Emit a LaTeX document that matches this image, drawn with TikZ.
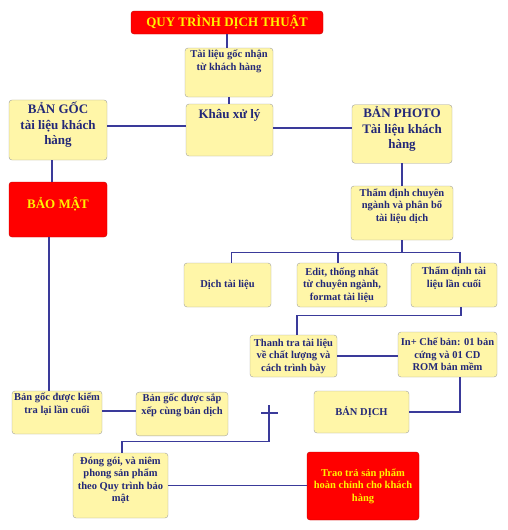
\documentclass[tikz,border=0pt]{standalone}
\usepackage{fontspec}
\setmainfont{Liberation Serif}
\usetikzlibrary{arrows.meta,positioning}
\definecolor{boxfill}{HTML}{FFF6A8}
\definecolor{boxline}{HTML}{A0A0A0}
\definecolor{ink}{HTML}{232878}
\definecolor{wireblue}{HTML}{3A3A9A}
\newcommand{\sm}{\fontsize{10.5}{12.5}\selectfont}
\newcommand{\bg}{\fontsize{13}{15.5}\selectfont}
\newcommand{\lift}[1]{\rule[-#1pt]{0pt}{0pt}}

\begin{document}
\begin{tikzpicture}[x=1pt,y=-1pt,
  box/.style={draw=boxline,rounded corners=3pt,fill=boxfill,text=ink,align=center,inner xsep=1pt,inner ysep=2pt,font=\bfseries\sm},
  hot/.style={box,fill=red,draw=red!75!black,text=yellow},
  sz/.style 2 args={minimum width=#1pt,minimum height=#2pt},
  wire/.style={draw=wireblue,line width=1.2pt}]
  \useasboundingbox (0,0) rectangle (508,530);
  \node[hot,sz={192}{23},font=\bfseries\bg] (title) at (227,22.5) {QUY TRÌNH DỊCH THUẬT};
  \node[box,sz={88}{49}] (src) at (229,72.5) {Tài liệu gốc nhận\\từ khách hàng\lift{24.5}};
  \node[box,sz={87}{52},font=\bfseries\bg] (khau) at (229.5,130) {Khâu xử lý\lift{31.5}};
  \node[box,sz={98}{56},font=\bfseries\bg] (bangoc) at (58,130) {BẢN GỐC\\tài liệu khách\\hàng\lift{13.5}};
  \node[box,sz={100}{56},font=\bfseries\bg] (banphoto) at (402,134) {BẢN PHOTO\\Tài liệu khách\\hàng\lift{12.5}};
  \node[hot,sz={98}{55},font=\bfseries\bg] (baomat) at (58,209.5) {BẢO MẬT\lift{12.5}};
  \node[box,sz={102}{54}] (thamdinh) at (402,213) {Thẩm định chuyên\\ngành và phân bổ\\tài liệu dịch\lift{16.5}};
  \node[box,sz={87}{44}] (dich) at (227.5,285) {Dịch tài liệu};
  \node[box,sz={90}{44}] (edit) at (342,285) {Edit, thống nhất\\từ chuyên ngành,\\format tài liệu};
  \node[box,sz={86}{44}] (tdlc) at (454,285) {Thẩm định tài\\liệu lần cuối\lift{15.5}};
  \node[box,sz={87}{42}] (thanhtra) at (293.5,356) {Thanh tra tài liệu\\về chất lượng và\\cách trình bày};
  \node[box,sz={99}{45}] (inban) at (447.5,354.5) {In+ Chế bản: 01 bản\\cứng và 01 CD\\ROM bản mềm};
  \node[box,sz={95}{42}] (bandich) at (361.5,412) {BẢN DỊCH};
  \node[box,sz={90}{43}] (bgkiem) at (57,412.5) {Bản gốc được kiểm\\tra lại lần cuối\lift{18.5}};
  \node[box,sz={92}{42}] (bgsap) at (182,414) {Bản gốc được sắp\\xếp cùng bản dịch\lift{19.5}};
  \node[box,sz={95}{65}] (donggoi) at (120.5,485.5) {Đóng gói, và niêm\\phong sản phẩm\\theo Quy trình bảo\\mật\lift{12.5}};
  \node[hot,sz={112}{68}] (traotra) at (363,486) {Trao trả sản phẩm\\hoàn chỉnh cho khách\\hàng};
  \coordinate (cross) at (269,413);
  \draw[wire] (title.south) -- (title.south |- src.north);
  \draw[wire] (src.south) -- (src.south |- khau.north);
  \draw[wire] ([yshift=4pt]bangoc.east) -- ([yshift=4pt]bangoc.east -| khau.west);
  \draw[wire] ([yshift=2pt]khau.east) -- ([yshift=2pt]khau.east -| banphoto.west);
  \draw[wire] (banphoto.south) -- (thamdinh.north);
  \draw[wire] (thamdinh.south) -- ++(0,12) coordinate (bus);
  \draw[wire] ([xshift=4pt]dich.north) |- (bus) -| ([xshift=6pt]tdlc.north);
  \draw[wire] ([xshift=-4pt]edit.north) -- ([xshift=-4pt]edit.north |- bus);
  \draw[wire] ([xshift=7pt]tdlc.south) -- ++(0,8) -| ([xshift=3.5pt]thanhtra.north);
  \draw[wire] (thanhtra.east) -- (thanhtra.east -| inban.west);
  \draw[wire] ([xshift=12.5pt]inban.south) |- (bandich.east);
  \draw[wire] ([xshift=-8pt]cross) -- ([xshift=9pt]cross);
  \draw[wire] ([xshift=1.5pt]donggoi.north) -- ++(0,-11) -| ([yshift=8pt]cross);
  \draw[wire] (donggoi.east) -- (donggoi.east -| traotra.west);
  \draw[wire] ([xshift=-6pt]bangoc.south) -- ([xshift=-6pt]bangoc.south |- baomat.north);
  \draw[wire] ([xshift=-9pt]baomat.south) -- ([xshift=-9pt]baomat.south |- bgkiem.north);
  \draw[wire] ([yshift=1.5pt]bgkiem.east) -- ([yshift=1.5pt]bgkiem.east -| bgsap.west);
\end{tikzpicture}
\end{document}
